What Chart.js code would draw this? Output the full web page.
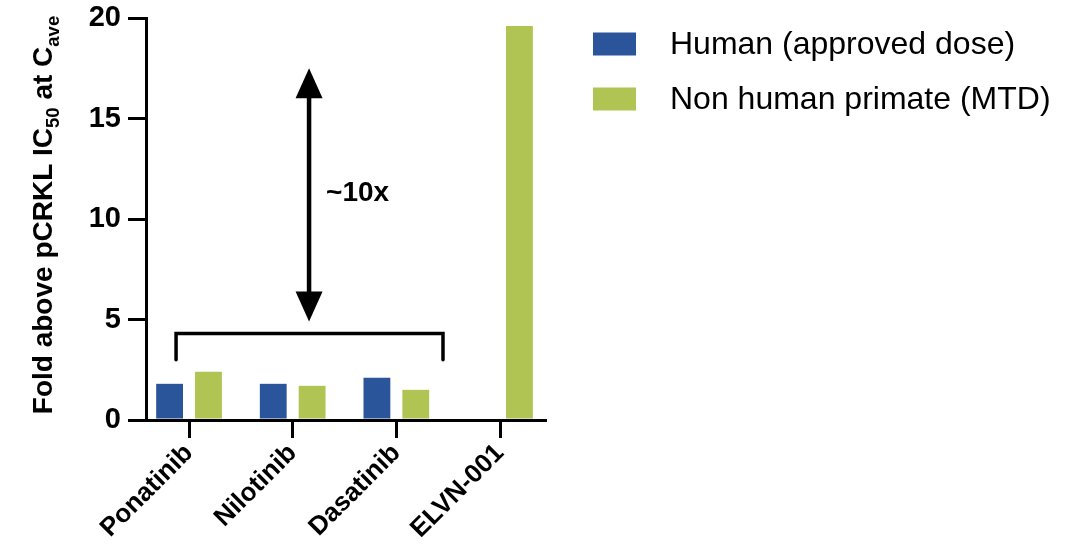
<!DOCTYPE html>
<html>
<head>
<meta charset="utf-8">
<script src="https://cdn.jsdelivr.net/npm/chart.js@4"></script>
<style>
  html, body { margin: 0; padding: 0; background: #fff; }
  #wrap { width: 1079px; height: 550px; position: relative; }
</style>
</head>
<body>
<div id="wrap"><canvas id="c" width="1079" height="550"></canvas></div>
<script>
// Drugs on the x axis
const categories = ['Ponatinib', 'Nilotinib', 'Dasatinib', 'ELVN-001'];
// Fold above pCRKL IC50 at Cave
const humanValues = [1.8, 1.8, 2.1, null];
const primateValues = [2.4, 1.7, 1.5, 19.6];
const seriesLabels = ['Human (approved dose)', 'Non human primate (MTD)'];
const yTicks = [0, 5, 10, 15, 20];

// Bracket over the three approved drugs and the "~10x" double arrow (data units)
const bracketX = [-0.125, 2.45];
const bracketY = [3.0, 4.3];
const arrowX = 1.158;
const arrowY = [4.9, 17.5];
const arrowText = '~10x';

const BLUE = '#2B559B';
const GREEN = '#AFC453';
const FONT = '"Liberation Sans", Arial, Helvetica, sans-serif';

const toPoints = vals => vals.map((v, i) => ({ x: i, y: v }));

const overlay = {
  id: 'overlay',
  afterDraw(chart) {
    const ctx = chart.ctx;
    const xs = chart.scales.x, ys = chart.scales.y;
    ctx.save();

    // bracket
    const bx0 = xs.getPixelForValue(bracketX[0]);
    const bx1 = xs.getPixelForValue(bracketX[1]);
    const byLow = ys.getPixelForValue(bracketY[0]);
    const byTop = ys.getPixelForValue(bracketY[1]);
    ctx.strokeStyle = '#000';
    ctx.lineWidth = 3.5;
    ctx.lineJoin = 'miter';
    ctx.lineCap = 'round';
    ctx.beginPath();
    ctx.moveTo(bx0, byLow);
    ctx.lineTo(bx0, byTop);
    ctx.lineTo(bx1, byTop);
    ctx.lineTo(bx1, byLow);
    ctx.stroke();

    // double-headed arrow
    const ax = xs.getPixelForValue(arrowX);
    const aBot = ys.getPixelForValue(arrowY[0]);
    const aTop = ys.getPixelForValue(arrowY[1]);
    const headL = 30, headW = 13.5;
    ctx.lineWidth = 4.5;
    ctx.lineCap = 'butt';
    ctx.beginPath();
    ctx.moveTo(ax, aTop + headL - 2);
    ctx.lineTo(ax, aBot - headL + 2);
    ctx.stroke();
    ctx.fillStyle = '#000';
    ctx.beginPath();
    ctx.moveTo(ax, aTop);
    ctx.lineTo(ax - headW, aTop + headL);
    ctx.lineTo(ax + headW, aTop + headL);
    ctx.closePath();
    ctx.fill();
    ctx.beginPath();
    ctx.moveTo(ax, aBot);
    ctx.lineTo(ax - headW, aBot - headL);
    ctx.lineTo(ax + headW, aBot - headL);
    ctx.closePath();
    ctx.fill();

    ctx.font = 'bold 28px ' + FONT;
    ctx.textAlign = 'left';
    ctx.textBaseline = 'middle';
    ctx.fillText(arrowText, ax + 17, (aTop + aBot) / 2 - 2);

    // legend
    const ds = chart.data.datasets;
    ctx.font = '32px ' + FONT;
    ds.forEach((d, i) => {
      const cy = 44 + i * 55;
      ctx.fillStyle = d.backgroundColor;
      ctx.fillRect(593, cy - 11.5, 43, 23);
      ctx.fillStyle = '#000';
      ctx.textBaseline = 'middle';
      ctx.fillText(d.label, 670, cy + 1);
    });

    // y axis title with subscripts
    const main = 'bold 28px ' + FONT;
    const sub = 'bold 18.5px ' + FONT;
    const parts = [
      ['Fold above pCRKL IC', main, 0],
      ['50', sub, 7],
      [' at C', main, 0],
      ['ave', sub, 7]
    ];
    let total = 0;
    parts.forEach(p => { ctx.font = p[1]; total += ctx.measureText(p[0]).width; });
    ctx.translate(52, 215);
    ctx.rotate(-Math.PI / 2);
    ctx.textBaseline = 'alphabetic';
    ctx.textAlign = 'left';
    ctx.fillStyle = '#000';
    let pos = -total / 2;
    parts.forEach(p => {
      ctx.font = p[1];
      ctx.fillText(p[0], pos, p[2]);
      pos += ctx.measureText(p[0]).width;
    });
    ctx.restore();
  }
};

new Chart(document.getElementById('c'), {
  type: 'bar',
  data: {
    datasets: [
      { label: seriesLabels[0], data: toPoints(humanValues), backgroundColor: BLUE },
      { label: seriesLabels[1], data: toPoints(primateValues), backgroundColor: GREEN }
    ]
  },
  options: {
    responsive: false,
    animation: false,
    devicePixelRatio: 1,
    layout: { padding: { top: 18, right: 534, left: 0, bottom: 0 } },
    categoryPercentage: 0.75,
    barPercentage: 0.69,
    plugins: { legend: { display: false }, tooltip: { enabled: false } },
    scales: {
      x: {
        type: 'linear',
        min: -0.415,
        max: 3.434,
        offset: false,
        grid: { offset: false, drawOnChartArea: false, drawTicks: true, tickLength: 18, lineWidth: 3, color: '#000' },
        border: { color: '#000', width: 3 },
        afterBuildTicks: s => { s.ticks = categories.map((_, i) => ({ value: i })); },
        ticks: {
          autoSkip: false,
          minRotation: 45,
          maxRotation: 45,
          padding: 0,
          color: '#000',
          font: { family: FONT, size: 26, weight: 'bold' },
          callback: v => categories[v]
        },
        afterFit: s => {
          s.height = 130;
          s.paddingLeft = 0; s.paddingRight = 0; s.paddingTop = 0; s.paddingBottom = 0;
        }
      },
      y: {
        min: 0,
        max: 20,
        grid: { drawOnChartArea: false, drawTicks: true, tickLength: 18, lineWidth: 3, color: '#000' },
        border: { color: '#000', width: 3 },
        afterBuildTicks: s => { s.ticks = yTicks.map(v => ({ value: v })); },
        ticks: {
          padding: 7,
          color: '#000',
          font: { family: FONT, size: 29, weight: 'bold' }
        },
        afterFit: s => {
          s.width = 146;
          s.paddingLeft = 0; s.paddingRight = 0; s.paddingTop = 0; s.paddingBottom = 0;
        }
      }
    }
  },
  plugins: [overlay]
});
</script>
</body>
</html>
